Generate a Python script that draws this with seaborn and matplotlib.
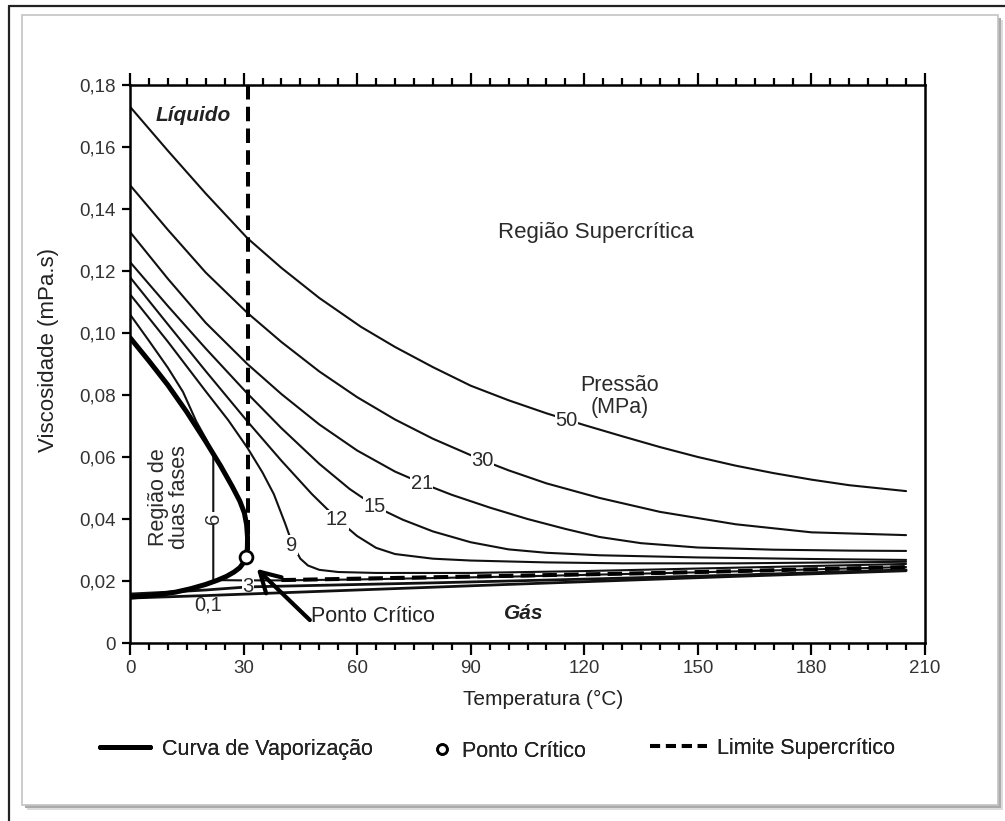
import numpy as np
import pandas as pd
import seaborn as sns
import matplotlib.pyplot as plt
from matplotlib.patches import Rectangle
from matplotlib.lines import Line2D
from matplotlib.ticker import MultipleLocator

# ---- isobars: temperature (°C) and viscosity (mPa.s) ----
t_50 = [0, 10, 20, 31, 40, 50, 61, 70, 80, 90, 100, 110, 120, 130, 140, 150,
        160, 170, 180, 190, 205]
v_50 = [0.173, 0.1588, 0.1450, 0.1306, 0.1210, 0.1113, 0.1020, 0.0955, 0.0890,
        0.0830, 0.0783, 0.0741, 0.0703, 0.0667, 0.0632, 0.0600, 0.0572, 0.0548,
        0.0527, 0.0509, 0.0490]

t_30 = [0, 10, 20, 31, 40, 50, 60, 70, 80, 93, 100, 110, 124, 140, 160, 180, 205]
v_30 = [0.1477, 0.1333, 0.1195, 0.1065, 0.0971, 0.0876, 0.0793, 0.0721, 0.0659,
        0.0590, 0.0557, 0.0515, 0.0468, 0.0423, 0.0383, 0.0357, 0.0348]

t_21 = [0, 10, 20, 31, 40, 50, 60, 70, 77, 85, 95, 105, 115, 124, 135, 150,
        170, 190, 205]
v_21 = [0.1326, 0.1175, 0.1033, 0.0900, 0.0803, 0.0705, 0.0621, 0.0553, 0.0516,
        0.0478, 0.0437, 0.0400, 0.0368, 0.0342, 0.0322, 0.0308, 0.0301, 0.0298,
        0.0297]

t_15 = [0, 10, 20, 31, 40, 50, 58, 65, 72, 80, 90, 100, 110, 124, 150, 180, 205]
v_15 = [0.1229, 0.1087, 0.0950, 0.0805, 0.0693, 0.0578, 0.0497, 0.0439, 0.0398,
        0.0360, 0.0325, 0.0302, 0.0291, 0.0283, 0.0276, 0.0271, 0.0268]

t_12 = [0, 10, 20, 31, 40, 48, 55, 60, 65, 70, 80, 90, 110, 130, 160, 205]
v_12 = [0.1180, 0.1028, 0.0877, 0.0715, 0.0588, 0.0481, 0.0397, 0.0345, 0.0307,
        0.0287, 0.0272, 0.0266, 0.0260, 0.0257, 0.0257, 0.0262]

t_9 = [0, 10, 20, 26, 31, 35, 38, 41, 43, 45, 47, 50, 55, 65, 90, 120, 160, 205]
v_9 = [0.1125, 0.0972, 0.0812, 0.0718, 0.0630, 0.0550, 0.0480, 0.0385, 0.0316,
       0.0272, 0.0250, 0.0236, 0.0229, 0.0226, 0.0226, 0.0232, 0.0243, 0.0255]

t_6 = [0, 5, 10, 14, 17.5, 20, 22, 22, 30, 40, 60, 100, 150, 205]
v_6 = [0.1060, 0.0975, 0.0888, 0.0810, 0.0715, 0.0660, 0.0612, 0.0203, 0.0202,
       0.0202, 0.0205, 0.0214, 0.0228, 0.0245]

t_3 = [0, 10, 20, 31.2, 50, 80, 120, 160, 205]
v_3 = [0.0158, 0.0164, 0.0171, 0.0181, 0.0186, 0.0194, 0.0206, 0.0219, 0.0236]

t_01 = [0, 20, 40, 60, 80, 100, 130, 160, 205]
v_01 = [0.0145, 0.0153, 0.0162, 0.0171, 0.0180, 0.0189, 0.0202, 0.0215, 0.0233]

# vaporization curve: liquid branch up to the critical point, then vapour branch
vap_t = [0, 5, 10, 15, 20, 24, 27, 29, 30.2, 30.8, 31.05, 31.0, 30.6,
         30.0, 29.0, 27.5, 25.5, 23, 20, 16, 12, 8, 4, 0]
vap_v = [0.0985, 0.0910, 0.0832, 0.0745, 0.0650, 0.0570, 0.0505, 0.0458, 0.0420,
         0.0382, 0.0340, 0.0305, 0.0277,
         0.0259, 0.0243, 0.0229, 0.0215, 0.0202, 0.0189, 0.0175, 0.0164, 0.0157,
         0.0152, 0.0148]

crit_t = [30.6]
crit_v = [0.0277]

# supercritical limit
lim_vert_t = [31.1, 31.1]
lim_vert_v = [0.180, 0.030]
lim_horz_t = [40, 71, 140, 205]
lim_horz_v = [0.0203, 0.0210, 0.0226, 0.0245]

# isobar labels (MPa) and their positions on the curves
iso_labels = ["50", "30", "21", "15", "12", "9", "6", "3", "0,1"]
iso_label_t = [115.4, 93.2, 77.1, 64.7, 54.7, 42.8, 22.0, 31.2, 20.6]
iso_label_v = [0.0719, 0.0590, 0.0516, 0.0439, 0.0397, 0.0316, 0.0403, 0.0181, 0.0123]

x_ticks = [0, 30, 60, 90, 120, 150, 180, 210]
x_tick_labels = ["0", "30", "60", "90", "120", "150", "180", "210"]
y_ticks = [0, 0.02, 0.04, 0.06, 0.08, 0.10, 0.12, 0.14, 0.16, 0.18]
y_tick_labels = ["0", "0,02", "0,04", "0,06", "0,08", "0,10", "0,12", "0,14", "0,16", "0,18"]

sns.set_theme(style="white")
plt.rcParams["font.family"] = ["Liberation Sans", "DejaVu Sans"]

W, H = 1005, 821
fig = plt.figure(figsize=(W / 100, H / 100), dpi=100)
fig.patch.set_facecolor("white")


def fx(px):
    return px / W


def fy(py):
    return 1 - py / H


# page frame with a soft drop shadow (kept behind the axes)
for off, col, z in [(5, "#dcdcdc", -3), (3, "#ababab", -2.5)]:
    fig.patches.append(Rectangle((fx(22 + off), fy(805 + off)), 976 / W, 790 / H,
                                 transform=fig.transFigure, facecolor=col,
                                 edgecolor="none", zorder=z))
fig.patches.append(Rectangle((fx(22), fy(805)), 976 / W, 790 / H,
                             transform=fig.transFigure, facecolor="white",
                             edgecolor="#c4c4c4", lw=1.2, zorder=-2))
fig.lines.append(Line2D([fx(9), fx(9)], [0, fy(6)], transform=fig.transFigure,
                        color="#222222", lw=1.6, zorder=-1))
fig.lines.append(Line2D([fx(9), 1], [fy(6), fy(6)], transform=fig.transFigure,
                        color="#222222", lw=1.6, zorder=-1))

ax = fig.add_axes([fx(130), fy(643), 795 / W, 558 / H])
ax.set_zorder(1)
ax.patch.set_alpha(0)
ax.set_xlim(0, 210)
ax.set_ylim(0, 0.18)


def draw(x, y, **kw):
    sns.lineplot(x=x, y=y, sort=False, estimator=None, ax=ax, **kw)
    ln = ax.lines[-1]
    ln.set_solid_joinstyle("round")
    return ln


thin = dict(color="#111111", linewidth=1.5, zorder=2)
for t, v in [(t_50, v_50), (t_30, v_30), (t_21, v_21), (t_15, v_15),
             (t_12, v_12), (t_9, v_9), (t_6, v_6)]:
    draw(t, v, **thin)
draw(t_3, v_3, color="#111111", linewidth=2.0, zorder=2)
draw(t_01, v_01, color="#111111", linewidth=2.0, zorder=3.5)

draw(vap_t, vap_v, color="black", linewidth=3.6, zorder=4)

for t, v in [(lim_vert_t, lim_vert_v), (lim_horz_t, lim_horz_v)]:
    ln = draw(t, v, color="black", linewidth=2.9, zorder=5)
    ln.set_dashes([3.6, 1.8])

sns.scatterplot(x=crit_t, y=crit_v, marker="o", s=85, facecolor="white",
                edgecolor="black", linewidth=2, zorder=6, ax=ax)

# isobar labels interrupt their curves
for lab, t, v in zip(iso_labels, iso_label_t, iso_label_v):
    rot = 90 if lab == "6" else 0
    bb = None if lab == "0,1" else dict(facecolor="white", edgecolor="none", pad=0.3)
    ax.text(t, v, lab, ha="center", va="center", fontsize=14.5, color="#2a2a2a",
            rotation=rot, bbox=bb, zorder=3)

# annotations
ax.annotate("", xy=(33.5, 0.0239), xytext=(47.5, 0.0074),
            arrowprops=dict(arrowstyle="->,head_length=0.7,head_width=0.4",
                            lw=3, color="black", shrinkA=0, shrinkB=0,
                            mutation_scale=20), zorder=7)
ax.text(47.8, 0.0084, "Ponto Crítico", ha="left", va="center", fontsize=15.5,
        color="#222222")
ax.text(16.6, 0.1703, "Líquido", ha="center", va="center", fontsize=15,
        fontweight="bold", fontstyle="italic", color="#222222")
ax.text(104, 0.0094, "Gás", ha="center", va="center", fontsize=15,
        fontweight="bold", fontstyle="italic", color="#222222")
ax.text(123, 0.1323, "Região Supercrítica", ha="center", va="center",
        fontsize=16, color="#2a2a2a")
ax.text(129.4, 0.0794, "Pressão\n(MPa)", ha="center", va="center", fontsize=15.5,
        color="#2a2a2a", linespacing=1.05)
ax.text(10.3, 0.0471, "Região de\nduas fases", ha="center", va="center",
        fontsize=15.5, color="#2a2a2a", rotation=90, linespacing=0.95)

# axes styling
for s in ax.spines.values():
    s.set_visible(True)
    s.set_color("black")
    s.set_linewidth(1.8)

ax.set_xticks(x_ticks)
ax.set_xticklabels(x_tick_labels)
ax.set_yticks(y_ticks)
ax.set_yticklabels(y_tick_labels)
ax.xaxis.set_minor_locator(MultipleLocator(5))
ax.tick_params(axis="x", which="major", direction="out", length=8.5, width=1.6,
               bottom=True, top=True, labelbottom=True, labeltop=False, pad=4,
               labelsize=13.5, labelcolor="#333333", color="black")
ax.tick_params(axis="x", which="minor", direction="out", length=5, width=1.6,
               bottom=True, top=True, color="black")
ax.tick_params(axis="y", which="major", direction="out", length=6, width=1.6,
               left=True, right=False, pad=4, labelsize=13.5,
               labelcolor="#333333", color="black")

ax.set_xlabel("Temperatura (°C)", fontsize=15, color="#222222")
ax.xaxis.set_label_coords((543 - 130) / 795, -0.085)
ax.set_ylabel("Viscosidade (mPa.s)", fontsize=16, color="#222222")
ax.yaxis.set_label_coords(-0.089, 0.525)

# legend below the plot
fs = 15.5
entries = [
    (Line2D([], [], color="black", lw=3.6), "Curva de Vaporização", 100, 749, 2.33, 0.56),
    (Line2D([], [], ls="none", marker="o", mfc="white", mec="black", ms=7, mew=2),
     "Ponto Crítico", 432, 751, 0.93, 0.47),
    (Line2D([], [], color="black", lw=2.9, dashes=(2.5, 1.45)),
     "Limite Supercrítico", 650, 748, 2.65, 0.47),
]
for h, lab, px, py, hl, htp in entries:
    leg = fig.legend(handles=[h], labels=[lab], loc="center left",
                     bbox_to_anchor=(fx(px), fy(py)), frameon=False,
                     borderpad=0, borderaxespad=0, handlelength=hl,
                     handletextpad=htp, fontsize=fs, labelcolor="#222222")
    fig.add_artist(leg)

fig.savefig("out.png", dpi=100, facecolor="white")
